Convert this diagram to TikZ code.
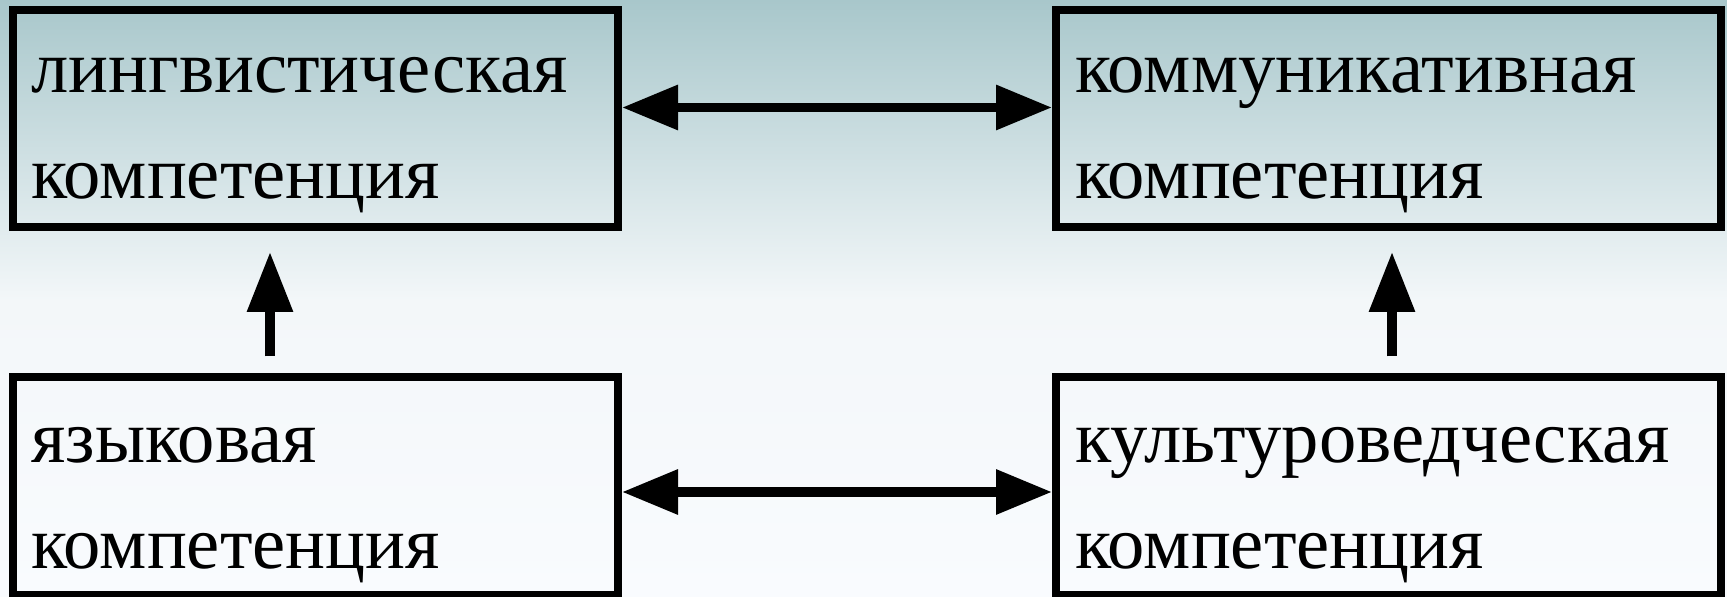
\documentclass[tikz,border=0pt]{standalone}
\usepackage{fontspec}
\setmainfont{Liberation Serif}
\usetikzlibrary{arrows.meta}
\definecolor{bgtop}{RGB}{168,199,203}
\definecolor{bgmid}{RGB}{243,247,249}
\definecolor{bgbot}{RGB}{249,251,254}
\tikzset{
  box/.style={draw=black, line width=4pt, rectangle, minimum height=108.5pt, inner sep=0pt},
  txt/.style={anchor=base west, inner sep=0pt, font=\fontsize{37.3pt}{44pt}\selectfont, text=black},
  arr/.style={line width=4.75pt, draw=black, {Triangle[length=28pt,width=21.5pt]}-{Triangle[length=28pt,width=21.5pt]}},
  uparr/.style={line width=4.75pt, draw=black, -{Triangle[length=30pt,width=22pt]}},
}
\begin{document}
\begin{tikzpicture}[x=0.5pt,y=-0.5pt]
\useasboundingbox (0,0) rectangle (1727,597);
\shade[top color=bgtop, bottom color=bgmid] (0,0) rectangle (1727,300);
\shade[top color=bgmid, bottom color=bgbot] (0,300) rectangle (1727,597);
% boxes
\node[box, minimum width=302.5pt] (tl) at (315.5,118.5) {};
\node[box, minimum width=332.5pt] (tr) at (1388.5,118.5) {};
\node[box, minimum width=302.5pt] (bl) at (315.5,486) {};
\node[box, minimum width=332.5pt] (br) at (1388.5,486) {};
% texts
\node[txt] (tl1) at (31,93) {лингвистическая};
\node[txt] (tl2) at (31,199) {компетенция};
\node[txt] (tr1) at (1075,93) {коммуникативная};
\node[txt] (tr2) at (1075,199) {компетенция};
\node[txt] (bl1) at (31,463) {языковая};
\node[txt] (bl2) at (31,568) {компетенция};
\node[txt] (br1) at (1075,463) {культуроведческая};
\node[txt] (br2) at (1075,568) {компетенция};
% arrow helpers
\coordinate (ay1) at (0,107.5);
\coordinate (ay2) at (0,492);
\coordinate (ax1) at (270,0);
\coordinate (ax2) at (1392,0);
\draw[arr] (tl.east |- ay1) -- (tr.west |- ay1);
\draw[arr] (bl.east |- ay2) -- (br.west |- ay2);
\draw[uparr, shorten <=8.5pt, shorten >=10.5pt] (bl.north -| ax1) -- (tl.south -| ax1);
\draw[uparr, shorten <=8.5pt, shorten >=10.5pt] (br.north -| ax2) -- (tr.south -| ax2);
\end{tikzpicture}
\end{document}
